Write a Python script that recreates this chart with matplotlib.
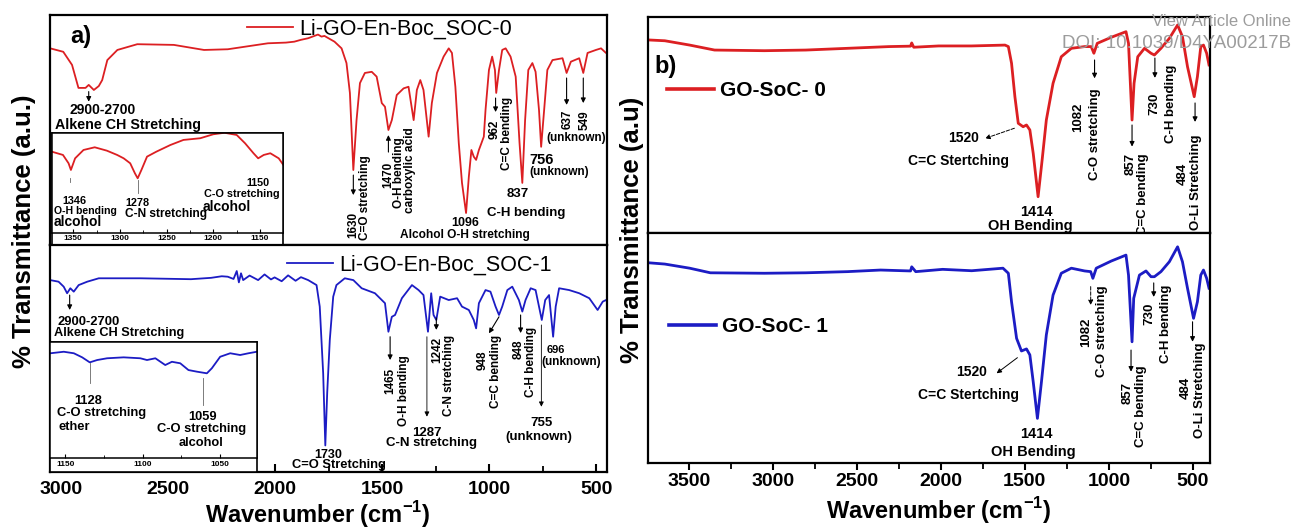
import numpy as np
import matplotlib
matplotlib.use('Agg')
import matplotlib.pyplot as plt
from matplotlib.patches import Rectangle
from matplotlib.ticker import MultipleLocator

plt.rcParams['font.family'] = ['Liberation Sans', 'DejaVu Sans']
plt.rcParams['font.weight'] = 'bold'
plt.rcParams['mathtext.fontset'] = 'custom'
plt.rcParams['mathtext.rm'] = 'Liberation Sans'
plt.rcParams['mathtext.bf'] = 'Liberation Sans:bold'

RED = '#dc1f22'
BLUE = '#1c1cc4'

# --- spectra: (wavenumber cm-1, transmittance a.u.) ---
soc0 = [(3052, 85.5), (2991, 84.0), (2950, 78.3), (2920, 68.3), (2887, 68.3), (2872, 69.6),
        (2848, 67.4), (2825, 69.1), (2809, 71.7), (2785, 80.4), (2738, 84.8), (2645, 87.3),
        (2474, 87.0), (2333, 84.8), (2222, 85.1), (2034, 87.7), (1950, 88.0), (1911, 88.4),
        (1880, 89.2), (1846, 89.9), (1800, 91.5), (1784, 90.6), (1770, 90.9), (1723, 88.4),
        (1690, 85.5), (1667, 79.1), (1651, 66.1), (1635, 32.6), (1620, 54.3), (1604, 70.4),
        (1581, 74.8), (1549, 75.3), (1526, 73.2), (1502, 61.7), (1487, 60.1), (1471, 50.0),
        (1455, 54.3), (1432, 65.2), (1400, 68.1), (1377, 68.8), (1353, 54.3), (1338, 67.4),
        (1322, 71.7), (1307, 67.4), (1283, 47.1), (1268, 61.7), (1244, 74.8), (1213, 81.9),
        (1189, 85.5), (1174, 83.5), (1158, 68.8), (1142, 44.3), (1127, 27.0), (1108, 13.9),
        (1095, 29.7), (1083, 41.3), (1072, 38.4), (1061, 37.0), (1048, 41.3), (1036, 44.3),
        (1025, 47.1), (1017, 58.7), (1001, 76.1), (986, 81.9), (973, 76.1), (967, 66.1),
        (954, 76.1), (939, 84.8), (923, 85.5), (900, 81.9), (876, 73.2), (858, 44.3),
        (845, 27.0), (832, 54.3), (817, 76.1), (798, 79.1), (783, 75.3), (767, 58.7),
        (757, 42.7), (743, 58.7), (728, 76.1), (704, 80.4), (657, 81.2), (638, 74.8),
        (618, 79.7), (579, 81.2), (560, 74.8), (540, 83.5), (501, 84.8), (477, 85.5),
        (454, 83.5), (440, 84.5)]

soc1 = [(3052, 84.5), (3013, 83.8), (2989, 81.6), (2973, 78.7), (2958, 80.9), (2942, 79.4),
        (2919, 82.3), (2879, 83.8), (2825, 85.3), (2629, 85.3), (2394, 84.9), (2300, 85.5),
        (2250, 86.2), (2222, 86.0), (2195, 85.0), (2180, 88.5), (2170, 83.5), (2160, 87.5),
        (2150, 84.5), (2120, 86.5), (2080, 84.5), (2050, 87.0), (2020, 84.8), (2003, 85.7),
        (1970, 84.0), (1940, 86.6), (1905, 84.2), (1880, 85.8), (1846, 84.5), (1807, 82.3),
        (1792, 72.8), (1776, 43.4), (1766, 11.5), (1757, 35.0), (1745, 58.1), (1729, 77.2),
        (1714, 82.3), (1675, 85.3), (1635, 84.5), (1596, 80.9), (1534, 78.7), (1487, 74.3),
        (1471, 61.7), (1455, 68.3), (1440, 69.1), (1408, 76.5), (1361, 82.3), (1330, 80.1),
        (1307, 77.9), (1286, 61.7), (1271, 78.7), (1260, 69.1), (1247, 66.9), (1229, 77.2),
        (1189, 75.7), (1150, 76.5), (1127, 72.8), (1095, 71.3), (1072, 66.9), (1061, 63.2),
        (1048, 74.3), (1017, 80.1), (994, 79.4), (970, 72.8), (954, 69.1), (939, 72.8),
        (915, 80.1), (892, 81.6), (861, 75.7), (845, 70.6), (830, 75.7), (806, 80.9),
        (783, 80.1), (767, 72.8), (754, 66.9), (738, 75.7), (720, 77.9), (701, 59.5),
        (689, 72.8), (673, 80.9), (626, 80.1), (579, 78.7), (532, 76.5), (493, 71.3),
        (469, 75.0), (454, 75.7), (440, 74.0)]

soc0_zoom = [(1373, 81.5), (1361, 78.2), (1355, 69.8), (1352.5, 63.1), (1348, 74.8), (1339, 83.2),
             (1327, 85.9), (1314, 82.5), (1303, 78.2), (1296, 74.8), (1289, 69.8), (1284, 59.8),
             (1281, 54.7), (1277, 63.1), (1271, 76.5), (1261, 81.5), (1246, 88.2), (1232, 93.3),
             (1214, 95.0), (1200, 99.0), (1188, 100.5), (1175, 98.3), (1166, 89.9), (1157, 79.9),
             (1152, 74.8), (1146, 78.2), (1139, 79.9), (1130, 74.8), (1125, 68.1)]

soc1_zoom = [(1159.7, 90.1), (1151.1, 91.4), (1144.6, 90.1), (1139.2, 86.6), (1134.3, 82.3),
             (1129.5, 84.3), (1123.1, 85.8), (1112.4, 86.6), (1101.6, 85.8), (1097.3, 84.3),
             (1091.9, 85.8), (1085.5, 80.0), (1081.2, 82.8), (1075.8, 81.5), (1070.5, 75.7),
             (1065.0, 74.3), (1058.6, 72.9), (1055.4, 77.2), (1050.0, 87.1), (1043.5, 90.1),
             (1037.1, 88.6), (1031.7, 90.1), (1026.3, 91.4)]

goc0 = [(3746, 89.4), (3642, 89.0), (3494, 87.0), (3346, 84.7), (3050, 84.4), (2803, 84.7),
        (2556, 85.5), (2309, 86.3), (2180, 86.5), (2173, 88.0), (2161, 86.0), (2013, 86.6),
        (1818, 86.6), (1618, 87.0), (1598, 86.3), (1579, 78.6), (1559, 63.1), (1539, 50.8),
        (1510, 49.2), (1490, 50.0), (1470, 47.7), (1450, 36.9), (1421, 16.8), (1397, 33.8),
        (1372, 52.3), (1332, 69.3), (1283, 81.6), (1223, 85.5), (1144, 86.3), (1105, 86.3),
        (1089, 83.2), (1069, 87.8), (986, 90.6), (898, 93.2), (883, 87.8), (862, 52.3),
        (850, 69.3), (828, 81.6), (788, 85.5), (749, 83.2), (729, 82.4), (690, 85.5),
        (640, 90.1), (591, 96.3), (562, 90.9), (532, 77.0), (492, 63.1), (473, 72.4),
        (453, 86.3), (437, 87.0), (418, 83.2), (404, 77.8)]

goc1 = [(3746, 87.1), (3642, 86.5), (3494, 84.7), (3371, 82.7), (3050, 82.5), (2803, 82.7),
        (2556, 83.2), (2358, 83.9), (2180, 83.5), (2173, 85.3), (2149, 83.2), (1989, 84.2),
        (1816, 83.6), (1630, 84.7), (1598, 82.5), (1579, 70.1), (1549, 54.2), (1520, 48.7),
        (1490, 49.6), (1470, 47.0), (1450, 35.3), (1425, 19.4), (1401, 35.3), (1372, 55.7),
        (1332, 73.0), (1283, 82.5), (1223, 84.7), (1144, 83.5), (1108, 83.2), (1095, 80.3),
        (1075, 84.7), (986, 87.8), (898, 90.4), (883, 81.7), (862, 52.7), (852, 71.6),
        (818, 81.7), (779, 83.5), (749, 81.0), (729, 81.0), (690, 83.2), (640, 87.5),
        (591, 94.0), (562, 87.5), (532, 76.0), (496, 62.9), (473, 70.1), (453, 81.7),
        (437, 83.9), (418, 80.3), (404, 76.0)]

left_ticks = [3000, 2500, 2000, 1500, 1000, 500]
right_ticks = [3500, 3000, 2500, 2000, 1500, 1000, 500]


def xy(pairs):
    a = np.array(pairs, dtype=float)
    return a[:, 0], a[:, 1]


def note(ax, x, y, s, size=8.5, rot=0, ha='center', va='center'):
    ax.text(x, y, s, fontsize=size, rotation=rot, ha=ha, va=va, clip_on=False, zorder=6)


def arrow(ax, x0, y0, x1, y1, ls='-', lw=0.8, color='k'):
    ax.annotate('', xy=(x1, y1), xytext=(x0, y0),
                arrowprops=dict(arrowstyle='-|>', color=color, lw=lw, ls=ls,
                                mutation_scale=7, shrinkA=0, shrinkB=0))


def frame(ax, xlim, lw=1.6):
    ax.set_xlim(*xlim)
    ax.set_ylim(0, 100)
    ax.set_yticks([])
    for s in ax.spines.values():
        s.set_linewidth(lw)


fig = plt.figure(figsize=(12.94, 5.28), dpi=100)

# ================= panel a) =================
LX = (3053, 447)
axa0 = fig.add_axes([0.03864, 0.5360, 0.4308, 0.4356])
axa1 = fig.add_axes([0.03864, 0.1070, 0.4308, 0.4290])

x, y = xy(soc0)
axa0.plot(x, y, color=RED, lw=1.3, label='Li-GO-En-Boc_SOC-0')
x, y = xy(soc1)
axa1.plot(x, y, color=BLUE, lw=1.3, label='Li-GO-En-Boc_SOC-1')

for ax in (axa0, axa1):
    frame(ax, LX)
axa0.tick_params(axis='x', which='both', bottom=False, labelbottom=False)
axa1.set_xticks(left_ticks)
axa1.xaxis.set_minor_locator(MultipleLocator(250))
axa1.tick_params(axis='x', which='major', direction='in', length=6, width=1.5,
                 labelsize=14, pad=7)
axa1.tick_params(axis='x', which='minor', direction='in', length=4.5, width=1.3)

legprop = {'family': 'Liberation Sans', 'size': 15.5, 'weight': 'normal'}
axa0.legend(loc='center left', bbox_to_anchor=(0.353, 0.939), frameon=False, borderpad=0,
            borderaxespad=0, handlelength=2.17, handletextpad=0.25, prop=legprop)
axa1.legend(loc='center left', bbox_to_anchor=(0.4246, 0.912), frameon=False, borderpad=0,
            borderaxespad=0, handlelength=2.17, handletextpad=0.25, prop=legprop)

# top annotations
note(axa0, 2911, 90.6, 'a)', 17)
arrow(axa0, 2872, 66.7, 2872, 62.3)
note(axa0, 2809, 58.7, '2900-2700', 10)
note(axa0, 3028, 52.2, 'Alkene CH Stretching', 10.3, ha='left')
arrow(axa0, 1635, 30.4, 1635, 21.7)
note(axa0, 1635, 3.0, '1630', 8.5, 90, va='bottom')
note(axa0, 1581, 2.2, 'C=O stretching', 8.5, 90, va='bottom')
arrow(axa0, 1471, 40.4, 1471, 47.8)
note(axa0, 1471, 36.1, '1470', 8.5, 90, va='top')
note(axa0, 1421, 47.0, 'O-H bending', 8.5, 90, va='top')
note(axa0, 1369, 51.3, 'carboxylic acid', 8.5, 90, va='top')
arrow(axa0, 970, 63.9, 970, 57.8)
note(axa0, 973, 54.3, '962', 8.5, 90, va='top')
note(axa0, 915, 64.3, 'C=C bending', 8.5, 90, va='top')
note(axa0, 868, 22.2, '837', 9.5)
note(axa0, 829, 14.0, 'C-H bending', 9.5)
note(axa0, 814, 37.0, '756', 10.5, ha='left')
note(axa0, 672, 31.6, '(unknown)', 8.5)
arrow(axa0, 638, 72.6, 638, 60.9)
note(axa0, 634, 58.7, '637', 8.5, 90, va='top')
arrow(axa0, 560, 72.6, 560, 61.7)
note(axa0, 555, 58.7, '549', 8.5, 90, va='top')
note(axa0, 595, 46.4, '(unknown)', 8.5)
note(axa0, 1113, 9.4, '1096', 9)
note(axa0, 1113, 4.3, 'Alcohol O-H stretching', 8.6)

# bottom annotations
arrow(axa1, 2961, 77.9, 2961, 71.3)
note(axa1, 3020, 66.1, '2900-2700', 9.4, ha='left')
note(axa1, 3036, 61.3, 'Alkene CH Stretching', 9.2, ha='left')
note(axa1, 1753, 7.3, '1730', 9)
note(axa1, 1704, 2.9, 'C=O Stretching', 9.3)
arrow(axa1, 1463, 59.5, 1463, 49.2)
note(axa1, 1463, 45.7, '1465', 8.5, 90, va='top')
note(axa1, 1400, 51.4, 'O-H bending', 8.5, 90, va='top')
arrow(axa1, 1291, 59.5, 1291, 24.2, lw=0.6)
note(axa1, 1291, 17.1, '1287', 9.5)
note(axa1, 1268, 12.7, 'C-N stretching', 9.5)
arrow(axa1, 1247, 67.8, 1247, 62.5)
note(axa1, 1244, 59.4, '1242', 8.5, 90, va='top')
note(axa1, 1189, 60.3, 'C-N stretching', 8.5, 90, va='top')
arrow(axa1, 954, 68.3, 1001, 61.0)
note(axa1, 1030, 53.6, '948', 8.5, 90, va='top')
note(axa1, 970, 60.3, 'C=C bending', 8.5, 90, va='top')
arrow(axa1, 853, 69.1, 853, 61.1)
note(axa1, 860, 58.1, '848', 8.5, 90, va='top')
note(axa1, 806, 63.8, 'C-H bending', 8.5, 90, va='top')
arrow(axa1, 756, 64.7, 756, 28.6, lw=0.6)
note(axa1, 756, 21.5, '755', 9.5)
note(axa1, 770, 15.4, '(unknown)', 9.5)
note(axa1, 689, 53.6, '696', 8)
note(axa1, 618, 48.5, '(unknown)', 8.5)

# insets
axa0.add_patch(Rectangle((0.003, 0), 0.4155, 0.4857, transform=axa0.transAxes, fc='white',
                         ec='k', lw=1.2, zorder=4, clip_on=False))
axa1.add_patch(Rectangle((0, 0), 0.3718, 0.573, transform=axa1.transAxes, fc='white',
                         ec='k', lw=1.2, zorder=4, clip_on=False))

ins0 = fig.add_axes([0.0400, 0.5593, 0.1790, 0.1883], zorder=5)
x, y = xy(soc0_zoom)
ins0.plot(x, y, color=RED, lw=1.3)
ins0.set_xlim(1373, 1125)
ins0.set_xticks([1350, 1300, 1250, 1200, 1150])
ins1 = fig.add_axes([0.03864, 0.1320, 0.1602, 0.2208], zorder=5)
x, y = xy(soc1_zoom)
ins1.plot(x, y, color=BLUE, lw=1.3)
ins1.set_xlim(1160, 1026)
ins1.set_xticks([1150, 1100, 1050])
for ins in (ins0, ins1):
    ins.set_ylim(0, 100)
    ins.set_yticks([])
    ins.xaxis.set_minor_locator(MultipleLocator(25))
    ins.tick_params(axis='x', which='major', direction='in', length=3, width=0.8,
                    labelsize=6, pad=2)
    ins.tick_params(axis='x', which='minor', direction='in', length=2, width=0.6)
    for s in ins.spines.values():
        s.set_linewidth(1.1)

ins0.plot([1353.5, 1353.5], [55, 51], color='0.4', lw=0.6)
ins0.plot([1281, 1281], [53, 40], color='0.4', lw=0.6)
ins0.plot([1161, 1161], [53, 49], color='0.4', lw=0.6)
note(ins0, 1349, 32.2, '1346', 7.8)
note(ins0, 1371, 22.1, 'O-H bending', 7.6, ha='left')
note(ins0, 1371, 11.1, 'alcohol', 10, ha='left')
note(ins0, 1281, 30.2, '1278', 7.8)
note(ins0, 1251, 19.0, 'C-N stretching', 8.6)
note(ins0, 1152, 49.7, '1150', 7.8)
note(ins0, 1170, 38.9, 'C-O stretching', 7.8)
note(ins0, 1186, 26.2, 'alcohol', 10)

ins1.plot([1134.3, 1134.3], [81.7, 64.3], color='0.4', lw=0.6)
ins1.plot([1061.4, 1061.4], [68.9, 45.7], color='0.4', lw=0.6)
note(ins1, 1135, 49.1, '1128', 9.3)
note(ins1, 1155.4, 38.6, 'C-O stretching', 9.3, ha='left')
note(ins1, 1154.5, 26.6, 'ether', 9.3, ha='left')
note(ins1, 1061.4, 35.7, '1059', 9.3)
note(ins1, 1061.8, 24.9, 'C-O stretching', 9.3)
note(ins1, 1062.3, 13.4, 'alcohol', 9.3)

# ================= panel b) =================
RX = (3745, 398)
axb0 = fig.add_axes([0.5004, 0.5587, 0.4347, 0.4091])
axb1 = fig.add_axes([0.5004, 0.1231, 0.4347, 0.4356])
x, y = xy(goc0)
axb0.plot(x, y, color=RED, lw=2.0, label='GO-SoC- 0')
x, y = xy(goc1)
axb1.plot(x, y, color=BLUE, lw=2.0, label='GO-SoC- 1')
for ax in (axb0, axb1):
    frame(ax, RX)
axb0.tick_params(axis='x', which='both', bottom=False, labelbottom=False)
axb1.set_xticks(right_ticks)
axb1.xaxis.set_minor_locator(MultipleLocator(250))
axb1.tick_params(axis='x', which='major', direction='out', length=5, width=1.5,
                 labelsize=14, pad=2.5)
axb1.tick_params(axis='x', which='minor', direction='out', length=4, width=1.3)

legprop2 = {'family': 'Liberation Sans', 'size': 15, 'weight': 'bold'}
axb0.legend(loc='center left', bbox_to_anchor=(0.0347, 0.659), frameon=False, borderpad=0,
            borderaxespad=0, handlelength=2.24, handletextpad=0.28, prop=legprop2)
axb1.legend(loc='center left', bbox_to_anchor=(0.0382, 0.593), frameon=False, borderpad=0,
            borderaxespad=0, handlelength=2.24, handletextpad=0.28, prop=legprop2)
for ax in (axb0, axb1):
    for ln in ax.get_legend().get_lines():
        ln.set_linewidth(2.6)

note(axb0, 3701, 77.0, 'b)', 17, ha='left')
arrow(axb0, 1562, 48.5, 1736, 43.8, ls='--', lw=0.7)
note(axb0, 1770, 43.8, '1520', 10, ha='right')
note(axb0, 1895, 33.3, 'C=C Stertching', 10)
note(axb0, 1431, 9.9, '1414', 10.5)
note(axb0, 1470, 3.2, 'OH Bending', 10.5)
arrow(axb0, 1085, 80.1, 1085, 71.6)
note(axb0, 1184, 60.2, '1082', 9.5, 90, va='top')
note(axb0, 1085, 67.1, 'C-O stretching', 9.5, 90, va='top')
arrow(axb0, 862, 50.0, 862, 40.0)
note(axb0, 868, 37.0, '857', 9.5, 90, va='top')
note(axb0, 799, 37.0, 'C=C bending', 9.5, 90, va='top')
arrow(axb0, 726, 81.0, 726, 71.8)
note(axb0, 729, 64.8, '730', 9.5, 90, va='top')
note(axb0, 631, 77.8, 'C-H bending', 9.5, 90, va='top')
arrow(axb0, 487, 60.2, 487, 51.4)
note(axb0, 562, 32.4, '484', 9.5, 90, va='top')
note(axb0, 483, 45.4, 'O-Li Stretching', 9.5, 90, va='top')

arrow(axb1, 1544, 45.8, 1668, 39.0, lw=0.7)
note(axb1, 1727, 39.7, '1520', 10, ha='right')
note(axb1, 1835, 29.6, 'C=C Stertching', 10)
note(axb1, 1431, 12.5, '1414', 10.5)
note(axb1, 1450, 4.7, 'OH Bending', 10.5)
arrow(axb1, 1108, 76.7, 1108, 68.7, ls='--', lw=0.7)
note(axb1, 1135, 63.0, '1082', 9.5, 90, va='top')
note(axb1, 1042, 77.4, 'C-O stretching', 9.5, 90, va='top')
arrow(axb1, 868, 49.1, 868, 39.7)
note(axb1, 887, 35.2, '857', 9.5, 90, va='top')
note(axb1, 809, 42.6, 'C=C bending', 9.5, 90, va='top')
arrow(axb1, 733, 78.3, 733, 72.2)
note(axb1, 759, 69.6, '730', 9.5, 90, va='top')
note(axb1, 661, 77.4, 'C-H bending', 9.5, 90, va='top')
arrow(axb1, 502, 61.4, 502, 52.7)
note(axb1, 542, 37.4, '484', 9.5, 90, va='top')
note(axb1, 457, 52.2, 'O-Li Stretching', 9.5, 90, va='top')

# axis titles
fig.text(0.0185, 1 - 231 / 528, '% Transmittance (a.u.)', rotation=90, fontsize=18.5,
         ha='center', va='center')
fig.text(0.4884, 1 - 230 / 528, '% Transmittance (a.u)', rotation=90, fontsize=18.5,
         ha='center', va='center')
fig.text(318 / 1294, 1 - 515 / 528, r'Wavenumber (cm$^{\mathbf{-1}}$)', fontsize=17,
         ha='center', va='center')
fig.text(939 / 1294, 1 - 511 / 528, r'Wavenumber (cm$^{\mathbf{-1}}$)', fontsize=17,
         ha='center', va='center')

# journal watermark
fig.text(1291 / 1294, 1 - 22 / 528, 'View Article Online', fontsize=12, weight='normal',
         color='#9c9c9c', ha='right', va='center')
fig.text(1291 / 1294, 1 - 44 / 528, 'DOI: 10.1039/D4YA00217B', fontsize=13.5, weight='normal',
         color='#9c9c9c', ha='right', va='center')

fig.savefig('out.png', dpi=100)
